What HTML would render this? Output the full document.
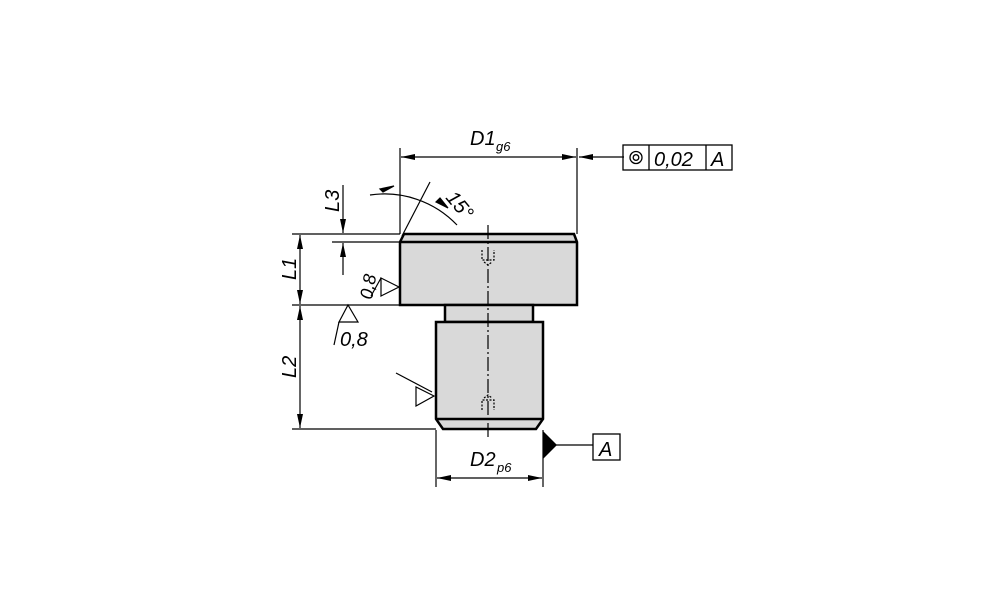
<!DOCTYPE html>
<html><head><style>html,body{margin:0;background:#fff}svg{display:block}text{font-family:"Liberation Sans",sans-serif;font-style:italic;fill:#000}</style></head>
<body>
<svg width="1000" height="611" viewBox="0 0 1000 611">
<defs><marker id="a" markerWidth="14" markerHeight="6" refX="14" refY="3" orient="auto" markerUnits="userSpaceOnUse"><path d="M0,0 L14,3 L0,6 z" fill="#000"/></marker></defs>
<g fill="#d9d9d9" stroke="#000" stroke-width="2.5">
<path d="M404,234 L574,234 L577,242 L577,305 L400,305 L400,242 Z"/>
<line x1="400" y1="242" x2="577" y2="242"/>
<rect x="445" y="305" width="88" height="17"/>
<path d="M436,322 L543,322 L543,419 L536,429 L443,429 L436,419 Z"/>
<line x1="436" y1="419" x2="543" y2="419"/>
</g>
<g stroke="#000" stroke-width="1.2" fill="none">
<line x1="488" y1="225" x2="488" y2="440" stroke-dasharray="14,3,2,3"/>
<path d="M482,250 v10 h12 v-10 M484,262 l4,3 l4,-3" stroke-dasharray="2,1.5"/>
<path d="M482,410 v-10 h12 v10 M484,398 l4,-3 l4,3" stroke-dasharray="2,1.5"/>
<line x1="400" y1="148" x2="400" y2="234"/><line x1="577" y1="148" x2="577" y2="234"/>
<line x1="488" y1="157" x2="401" y2="157" marker-end="url(#a)"/>
<line x1="488" y1="157" x2="576" y2="157" marker-end="url(#a)"/>
<line x1="624" y1="157" x2="579" y2="157" marker-end="url(#a)"/>
<rect x="623" y="145" width="109" height="25" stroke-width="1.3"/>
<line x1="649" y1="145" x2="649" y2="170" stroke-width="1.3"/><line x1="706" y1="145" x2="706" y2="170" stroke-width="1.3"/>
<circle cx="636" cy="157.5" r="6" stroke-width="1.3"/><circle cx="636" cy="157.5" r="2.8" stroke-width="1.3"/>
<line x1="402" y1="236" x2="430" y2="182"/>
<path d="M370,195 A100,100 0 0 1 457,225"/>
<path d="M380,189 l14,-3 l-11,6z" fill="#000"/>
<path d="M440,198 l8,10 l-12,-6z" fill="#000"/>
<line x1="292" y1="234" x2="400" y2="234"/><line x1="292" y1="305" x2="400" y2="305"/><line x1="292" y1="429" x2="436" y2="429"/>
<line x1="332" y1="242" x2="400" y2="242"/>
<line x1="300" y1="270" x2="300" y2="235" marker-end="url(#a)"/><line x1="300" y1="270" x2="300" y2="304" marker-end="url(#a)"/>
<line x1="300" y1="360" x2="300" y2="306" marker-end="url(#a)"/><line x1="300" y1="360" x2="300" y2="428" marker-end="url(#a)"/>
<line x1="343" y1="185" x2="343" y2="233" marker-end="url(#a)"/><line x1="343" y1="275" x2="343" y2="243" marker-end="url(#a)"/>
<path d="M399,287 L381,278 L381,296 Z"/><line x1="381" y1="278" x2="371" y2="296"/>
<path d="M358,322 L348,305 L339,322 Z"/><line x1="339" y1="322" x2="334" y2="345"/>
<path d="M434,396 L416,387 L416,406 Z"/><line x1="396" y1="373" x2="432" y2="392"/>
<line x1="436" y1="430" x2="436" y2="487"/><line x1="543" y1="430" x2="543" y2="487"/>
<line x1="490" y1="478" x2="437" y2="478" marker-end="url(#a)"/><line x1="490" y1="478" x2="542" y2="478" marker-end="url(#a)"/>
<line x1="556" y1="445" x2="593" y2="445"/>
<rect x="593" y="434" width="27" height="26" stroke-width="1.3"/>
</g>
<path d="M543,431 L557,445 L543,459 Z" fill="#000"/>
<g font-size="20">
<text x="470" y="145">D1</text><text x="496" y="151" font-size="13">g6</text>
<text x="654" y="166">0,02</text><text x="711" y="166">A</text>
<text x="599" y="456">A</text>
<text x="470" y="466">D2</text><text x="497" y="472" font-size="13">p6</text>
<text transform="translate(296,280) rotate(-90)">L1</text>
<text transform="translate(296,378) rotate(-90)">L2</text>
<text transform="translate(339,212) rotate(-90)">L3</text>
<text transform="translate(372,300) rotate(-80)" font-size="18">0,8</text>
<text x="340" y="346">0,8</text>
<text transform="translate(445,198) rotate(50)">15°</text>
</g>
</svg>
</body></html>
